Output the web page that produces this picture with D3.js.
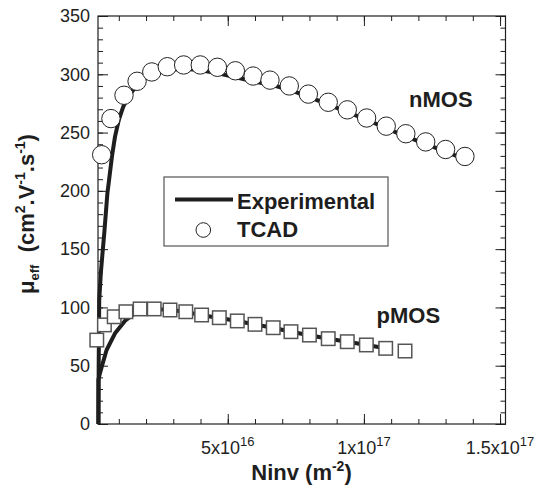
<!DOCTYPE html>
<html><head><meta charset="utf-8">
<script src="https://cdn.jsdelivr.net/npm/d3@7"></script>
<style>body{margin:0;background:#fff}svg{display:block}</style>
</head><body><svg id="c" width="536" height="491"></svg>
<script>
// ---- data (N in m^-2, mobility in cm2/V/s) ----
const nmosTcadN  = [0.37,0.71,1.19,1.67,2.21,2.78,3.38,3.99,4.62,5.28,5.93,6.55,7.26,7.96,8.69,9.39,10.10,10.82,11.54,12.27,13.00,13.71].map(v=>v*1e16);
const nmosTcadMu = [231,262,282,294,302,306.5,308,308,306,303,298.5,295,290,283,276,269.5,262.5,255.5,249,242,235.5,229.5];

const nmosExpN  = [0.25,0.26,0.28,0.34,0.41,0.47,0.58,0.64,0.75,0.86,1.0,1.16,1.35,1.53,1.75,2.0,2.5,3.0,3.5,4.0,4.6,5.3,6.0,6.6,7.3,8.0,8.7,9.4,10.1,10.8,11.5,12.3,13.0,13.7].map(v=>v*1e16);
const nmosExpMu = [0,50,106,130,149,165,198,209,230,246.5,261,272,281,286.5,292,297,302,304,304.5,303.5,301,297.5,293.5,291,286.5,280.5,274,267.5,261,254,247,240,233.5,227.5];

const pmosTcadN  = [0.19,0.47,0.83,1.26,1.78,2.30,2.88,3.46,4.04,4.69,5.35,6.0,6.67,7.32,8.0,8.69,9.39,10.09,10.80,11.51].map(v=>v*1e16);
const pmosTcadMu = [72,85,92,96.3,98.7,98.7,97.8,96.3,93.5,91.2,88.4,85.5,82.6,79.2,76.3,73.2,70.6,67.8,64.9,62.6];

const pmosExpN  = [0.25,0.25,0.30,0.37,0.55,0.86,1.23,1.6,2.0,2.5,3.0,3.5,4.0,4.7,5.35,6.0,6.67,7.32,8.0,8.7,9.4,10.1,10.8].map(v=>v*1e16);
const pmosExpMu = [0,38,43,49,63.5,77.8,88.6,95,98,98.5,97.5,96,93.5,91,88.3,85.4,82.5,79.2,76.2,73.2,70.5,67.8,65];

const xMajorTicks = [5e16, 1e17, 1.5e17];
const xTickMantissa = ["5", "1", "1.5"];
const xTickExponent = ["16", "17", "17"];
const xMinorTicks = d3.range(1, 16).map(v=>v*1e16);
const yMajorTicks = d3.range(0, 351, 50);
const yMinorTicks = d3.range(0, 351, 10);

// ---- chart ----
const FONT = "'Liberation Sans', Arial, Helvetica, sans-serif";
const INK = "#1e1e1e";
const svg = d3.select("#c");
const L = 98, R = 505.5, T = 16, B = 424;
const x = d3.scaleLinear().domain([0.235e16, 15.2e16]).range([L, R]);
const y = d3.scaleLinear().domain([0, 350]).range([B, T]);

function styleAxis(g){
  g.select(".domain").remove();
  g.selectAll(".tick line").attr("stroke", INK).attr("stroke-width", 1);
  g.selectAll(".tick text").attr("font-family", FONT).attr("font-size", 18).attr("fill", INK);
}
// bottom
svg.append("g").attr("transform",`translate(0,${B})`)
  .call(d3.axisBottom(x).tickValues(xMinorTicks).tickSize(-5).tickFormat("")).call(styleAxis);
svg.append("g").attr("transform",`translate(0,${B})`)
  .call(d3.axisBottom(x).tickValues(xMajorTicks).tickSize(-10).tickFormat("")).call(styleAxis);
// top
svg.append("g").attr("transform",`translate(0,${T})`)
  .call(d3.axisTop(x).tickValues(xMinorTicks).tickSize(-5).tickFormat("")).call(styleAxis);
svg.append("g").attr("transform",`translate(0,${T})`)
  .call(d3.axisTop(x).tickValues(xMajorTicks).tickSize(-10).tickFormat("")).call(styleAxis);
// left
svg.append("g").attr("transform",`translate(${L},0)`)
  .call(d3.axisLeft(y).tickValues(yMinorTicks).tickSize(-5).tickFormat("")).call(styleAxis);
svg.append("g").attr("transform",`translate(${L},0)`)
  .call(d3.axisLeft(y).tickValues(yMajorTicks).tickSize(-10).tickPadding(8).tickFormat(d3.format("d"))).call(styleAxis);
// right
svg.append("g").attr("transform",`translate(${R},0)`)
  .call(d3.axisRight(y).tickValues(yMinorTicks).tickSize(-5).tickFormat("")).call(styleAxis);
svg.append("g").attr("transform",`translate(${R},0)`)
  .call(d3.axisRight(y).tickValues(yMajorTicks).tickSize(-10).tickFormat("")).call(styleAxis);

// frame
svg.append("rect").attr("x",L).attr("y",T).attr("width",R-L).attr("height",B-T)
  .attr("fill","none").attr("stroke",INK).attr("stroke-width",1.2);

// x tick labels with exponents
xMajorTicks.forEach((v,i)=>{
  const t = svg.append("text").attr("x", x(v)).attr("y", 454)
    .attr("text-anchor","middle").attr("font-family",FONT).attr("font-size",18).attr("fill",INK);
  t.append("tspan").text(xTickMantissa[i] + "x10");
  t.append("tspan").attr("dy",-8).attr("font-size",13).text(xTickExponent[i]);
});

// lines
const line = d3.line().x(d=>x(d[0])).y(d=>y(d[1]));
[[nmosExpN,nmosExpMu],[pmosExpN,pmosExpMu]].forEach(([N,M])=>{
  svg.append("path").datum(N.map((n,i)=>[n,M[i]])).attr("d",line)
    .attr("fill","none").attr("stroke",INK).attr("stroke-width",4).attr("stroke-linejoin","round");
});

// TCAD markers
svg.append("g").selectAll("circle").data(nmosTcadN.map((n,i)=>[n,nmosTcadMu[i]])).join("circle")
  .attr("cx",d=>x(d[0])).attr("cy",d=>y(d[1])).attr("r",9.2)
  .attr("fill","#fff").attr("stroke","#222").attr("stroke-width",1);
const S = 13.5;
svg.append("g").selectAll("rect").data(pmosTcadN.map((n,i)=>[n,pmosTcadMu[i]])).join("rect")
  .attr("x",d=>x(d[0])-S/2).attr("y",d=>y(d[1])-S/2).attr("width",S).attr("height",S)
  .attr("fill","#fff").attr("stroke","#555").attr("stroke-width",1.5);

// annotations
svg.append("text").attr("x",409).attr("y",106.5).attr("font-family",FONT).attr("font-weight","bold")
  .attr("font-size",22).attr("fill",INK).text("nMOS");
svg.append("text").attr("x",376.5).attr("y",323).attr("font-family",FONT).attr("font-weight","bold")
  .attr("font-size",22).attr("fill",INK).text("pMOS");

// legend
const lg = svg.append("g");
lg.append("rect").attr("x",164).attr("y",177).attr("width",224).attr("height",69)
  .attr("fill","#fff").attr("stroke","#555").attr("stroke-width",1.2);
lg.append("line").attr("x1",175).attr("x2",233).attr("y1",199.5).attr("y2",199.5)
  .attr("stroke",INK).attr("stroke-width",4);
lg.append("circle").attr("cx",203.3).attr("cy",230).attr("r",7.3)
  .attr("fill","#fff").attr("stroke","#222").attr("stroke-width",1);
lg.append("text").attr("x",237).attr("y",209).attr("font-family",FONT).attr("font-weight","bold")
  .attr("font-size",22).attr("fill",INK).text("Experimental");
lg.append("text").attr("x",237).attr("y",237).attr("font-family",FONT).attr("font-weight","bold")
  .attr("font-size",22).attr("fill",INK).text("TCAD");

// axis titles
const xt = svg.append("text").attr("x",301.5).attr("y",480).attr("text-anchor","middle")
  .attr("font-family",FONT).attr("font-weight","bold").attr("font-size",22).attr("fill",INK);
xt.append("tspan").text("Ninv (m");
xt.append("tspan").attr("dy",-9).attr("font-size",14).text("-2");
xt.append("tspan").attr("dy",9).text(")");

const yt = svg.append("text").attr("transform","translate(34,214) rotate(-90)").attr("text-anchor","middle")
  .attr("font-family",FONT).attr("font-weight","bold").attr("font-size",22).attr("fill",INK);
yt.append("tspan").text("μ");
yt.append("tspan").attr("dy",5).attr("font-size",13).text("eff");
yt.append("tspan").attr("dy",-5).text("\u00a0\u00a0(cm");
yt.append("tspan").attr("dy",-9).attr("font-size",14).text("2");
yt.append("tspan").attr("dy",9).text(".V");
yt.append("tspan").attr("dy",-9).attr("font-size",14).text("-1");
yt.append("tspan").attr("dy",9).text(".s");
yt.append("tspan").attr("dy",-9).attr("font-size",14).text("-1");
yt.append("tspan").attr("dy",9).text(")");
</script>
</body></html>
